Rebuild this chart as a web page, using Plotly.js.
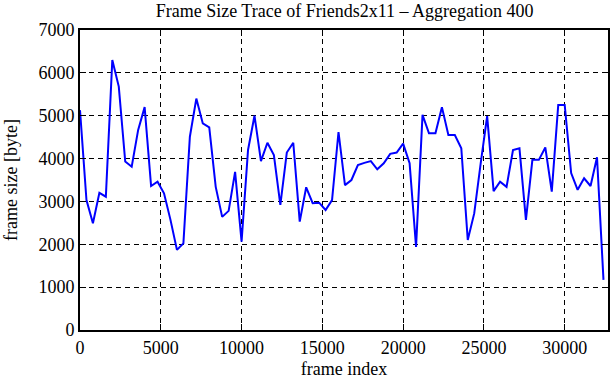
<!DOCTYPE html>
<html>
<head>
<meta charset="utf-8">
<script src="https://cdn.plot.ly/plotly-3.0.1.min.js"></script>
<style>html,body{margin:0;padding:0;background:#fff;}#chart{width:611px;height:380px;}</style>
</head>
<body>
<div id="chart"></div>
<script>
// frame index step of the aggregation
const aggregation = 400;
// aggregated frame sizes [byte], one per 400 frames starting at frame 0
const frameSizes = [
  5130, 3030, 2490, 3200, 3110, 6300, 5680, 3930, 3810, 4670,
  5200, 3360, 3460, 3190, 2570, 1870, 2020, 4510, 5400, 4820,
  4730, 3340, 2640, 2780, 3690, 2060, 4200, 5000, 3940, 4370,
  4080, 2920, 4140, 4370, 2530, 3330, 2960, 2970, 2800, 3030,
  4620, 3380, 3500, 3850, 3900, 3940, 3750, 3890, 4110, 4140,
  4350, 3890, 1940, 5020, 4590, 4590, 5200, 4550, 4550, 4240,
  2100, 2720, 3890, 4990, 3240, 3460, 3340, 4200, 4240, 2570,
  3970, 3970, 4260, 3230, 5250, 5250, 3660, 3270, 3540, 3360,
  4030, 1170
];
const frameIndex = frameSizes.map((_, i) => i * aggregation);
const xTicks = [0, 5000, 10000, 15000, 20000, 25000, 30000];
const yTicks = [0, 1000, 2000, 3000, 4000, 5000, 6000, 7000];

const font = {family: '"Liberation Serif", "Times New Roman", serif', size: 18, color: '#000'};

const axisCommon = {
  showline: true, linecolor: '#000', linewidth: 2, mirror: 'ticks',
  ticks: 'inside', ticklen: 6, tickwidth: 1, tickcolor: '#000',
  showgrid: true, gridcolor: '#000', gridwidth: 1, griddash: '5px,4px',
  zeroline: false, tickfont: font
};

Plotly.newPlot('chart', [{
  x: frameIndex, y: frameSizes, type: 'scatter', mode: 'lines',
  line: {color: '#0000ff', width: 2}, hoverinfo: 'skip'
}], {
  width: 611, height: 380,
  margin: {l: 80, r: 3, t: 30, b: 50},
  paper_bgcolor: '#fff', plot_bgcolor: '#fff',
  font: font, showlegend: false,
  title: {text: 'Frame Size Trace of Friends2x11 \u2013 Aggregation 400', font: font,
          x: 0.564, xanchor: 'center', y: 0.972, yanchor: 'middle', yref: 'container'},
  xaxis: Object.assign({}, axisCommon, {
    range: [0, 32680], tickmode: 'array', tickvals: xTicks, ticktext: xTicks.map(String),
    title: {text: 'frame index', font: font, standoff: 6}
  }),
  yaxis: Object.assign({}, axisCommon, {
    range: [0, 7000], tickmode: 'array', tickvals: yTicks, ticktext: yTicks.map(String),
    title: {text: 'frame size [byte]', font: font, standoff: 16}
  })
}, {staticPlot: true});
</script>
</body>
</html>
